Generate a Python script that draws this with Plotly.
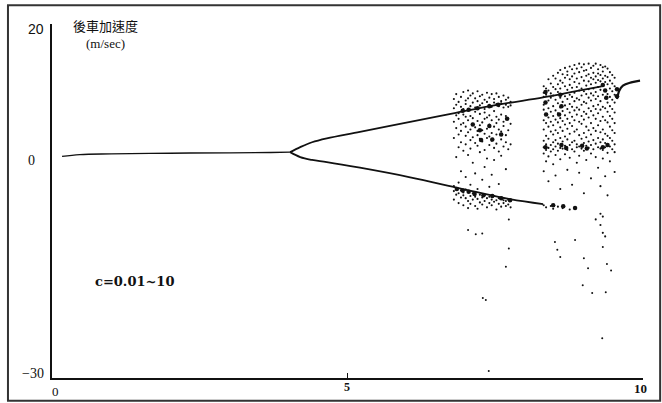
import plotly.graph_objects as go

# ---- period-1 branch (before the split) ----
base_c = [0.17, 0.47, 1.0, 2.0, 3.0, 3.7, 4.03]
base_y = [1.3, 1.55, 1.65, 1.75, 1.8, 1.85, 1.9]

# ---- period-2 branches ----
upper_c = [4.03, 4.2, 4.4, 4.65, 5.21, 6.06, 6.79, 7.53, 8.31, 8.8, 9.3]
upper_y = [1.9, 2.6, 3.3, 3.85, 4.77, 6.18, 7.38, 8.58, 9.63, 10.4, 11.2]
lower_c = [4.03, 4.2, 4.4, 4.65, 5.21, 6.06, 6.9, 7.75, 8.31]
lower_y = [1.9, 1.2, 0.8, 0.5, -0.3, -1.65, -3.2, -4.75, -5.45]

# ---- branch after the second chaotic window ----
final_c = [9.56, 9.6, 9.66, 9.8, 9.95]
final_y = [9.4, 10.6, 11.3, 11.75, 12.0]

# ---- chaotic samples, one list of accelerations per c value ----
streak_c = [6.80, 6.84, 6.88, 6.92, 6.96, 7.00, 7.04, 7.08, 7.12, 7.16, 7.20, 7.24, 7.28,
            7.32, 7.36, 7.40, 7.44, 7.48, 7.52, 7.56, 7.60, 7.64, 7.68, 7.72, 7.76,
            8.32, 8.36, 8.40, 8.44, 8.48, 8.52, 8.56, 8.60, 8.64, 8.68, 8.72, 8.76,
            8.80, 8.84, 8.88, 8.92, 8.96, 9.00, 9.04, 9.08, 9.12, 9.16, 9.20, 9.24,
            9.28, 9.32, 9.36, 9.40, 9.44, 9.48, 9.52]
streak_y = [
    [9.4, 8.1, 6.2, 3.9, -2.9, -3.6, -4.8],
    [10.1, 8.6, 7.1, 5.3, 1.2, -3.2, -4.1],
    [9.0, 7.4, 6.6, 4.4, 2.6, -2.4, -3.9, -5.3],
    [9.7, 8.3, 5.8, 4.9, 3.3, -0.8, -3.5, -4.5],
    [10.4, 8.0, 7.2, 6.0, 2.1, -3.8, -4.2, -5.6],
    [9.2, 8.7, 6.9, 5.5, 4.2, 3.0, -1.6, -3.4, -4.6],
    [10.6, 9.5, 7.8, 6.4, 4.7, 1.5, -3.7, -5.0, -6.0],
    [9.9, 8.4, 7.0, 5.1, 3.6, 2.4, -2.7, -4.3, -5.4],
    [10.2, 8.9, 6.7, 5.9, 4.0, 0.4, -3.9, -4.8],
    [9.5, 8.2, 7.6, 5.4, 3.2, -1.1, -4.0, -4.4, -5.7],
    [10.5, 9.1, 6.3, 4.9, 4.3, 2.8, -3.3, -4.7, -6.1],
    [9.8, 8.5, 7.3, 5.7, 3.8, 1.9, -4.1, -5.2],
    [10.0, 8.8, 6.1, 5.0, 3.4, -2.0, -4.5, -5.5],
    [9.3, 8.0, 7.5, 6.6, 4.5, 2.2, -0.2, -4.2, -5.0],
    [10.3, 9.0, 6.8, 5.2, 3.9, 1.0, -4.6, -5.9],
    [9.6, 8.6, 7.1, 5.8, 4.1, 2.9, -3.0, -4.4, -5.3],
    [10.1, 8.3, 6.4, 4.6, 3.5, -1.3, -4.8, -5.6],
    [9.4, 8.9, 7.7, 5.5, 2.5, 0.8, -4.3, -5.1],
    [10.2, 8.7, 6.9, 6.0, 4.4, 3.1, -4.9, -6.2],
    [9.7, 8.4, 6.5, 5.1, 2.0, -2.6, -4.6, -5.4],
    [9.1, 8.8, 7.2, 4.8, 3.7, 1.4, -4.7, -5.8],
    [9.9, 8.2, 6.2, 5.6, 2.7, -4.9, -5.3],
    [9.3, 8.6, 7.0, 4.3, 3.3, -0.5, -5.0, -5.7],
    [9.6, 8.3, 6.6, 5.0, 2.3, -4.8, -5.5],
    [9.0, 8.5, 5.9, 3.0, -5.0, -5.9],
    [11.2, 10.3, 9.7, 8.6, 7.9, 6.4, 5.1, 3.5, 2.6, 1.7, -0.8, -5.6],
    [10.9, 10.0, 8.9, 7.3, 6.0, 4.2, 3.0, 2.2, 0.6, -5.9],
    [12.2, 10.6, 9.2, 8.1, 6.8, 5.5, 3.8, 2.5, 1.3, -2.2],
    [11.6, 10.2, 9.6, 7.6, 6.2, 4.8, 2.9, 2.0, -5.7],
    [12.7, 11.1, 9.9, 8.4, 7.0, 5.7, 4.4, 3.3, 2.3, 0.2, -6.1],
    [12.3, 10.8, 9.3, 7.8, 6.5, 5.0, 3.6, 2.7, 1.5, -1.4],
    [13.1, 11.5, 10.4, 8.8, 7.4, 6.1, 4.6, 3.1, 2.1, -5.8],
    [13.5, 12.0, 10.9, 9.6, 8.2, 6.7, 5.4, 3.9, 2.5, 0.9, -3.3],
    [12.9, 11.7, 10.1, 9.0, 7.7, 6.3, 4.9, 3.4, 2.4, -6.0],
    [13.8, 12.4, 11.2, 9.8, 8.5, 7.1, 5.8, 4.1, 2.8, 1.6],
    [13.3, 12.8, 10.7, 9.4, 8.0, 6.6, 5.2, 3.7, 2.2, -0.6],
    [14.0, 12.2, 11.4, 10.0, 8.7, 7.5, 6.0, 4.5, 2.9, 1.1, -6.2],
    [13.6, 12.6, 11.0, 9.7, 8.3, 6.9, 5.6, 3.3, 2.3, -2.7],
    [14.2, 13.0, 11.8, 10.3, 9.1, 7.8, 6.4, 4.8, 3.5, 2.0],
    [13.7, 12.3, 11.1, 9.5, 8.2, 7.2, 5.1, 3.0, 2.6, 0.4],
    [14.4, 13.2, 11.6, 10.6, 9.3, 7.9, 6.2, 4.3, 2.7, 1.4, -1.0],
    [13.9, 12.5, 10.9, 9.9, 8.6, 7.0, 5.9, 3.8, 2.4],
    [14.3, 13.4, 12.0, 10.5, 9.0, 7.6, 6.5, 4.6, 3.2, 2.1, -3.9],
    [13.5, 12.7, 11.3, 10.1, 8.8, 7.3, 5.5, 4.0, 2.8, 0.8],
    [14.4, 12.9, 11.9, 10.8, 9.6, 8.1, 6.8, 5.0, 3.4, 2.5],
    [13.8, 12.4, 11.5, 10.2, 9.2, 7.7, 6.0, 4.4, 2.9, 1.7, -1.8],
    [14.1, 13.1, 12.2, 10.9, 9.9, 8.4, 7.1, 5.3, 3.6, 2.3],
    [14.4, 12.6, 11.7, 10.4, 9.4, 8.0, 6.6, 4.9, 3.1, 1.2, -7.6],
    [13.6, 13.0, 12.1, 11.1, 9.8, 8.6, 7.4, 5.7, 3.9, 2.6, -0.3],
    [14.2, 12.8, 11.9, 10.7, 9.1, 7.9, 6.3, 4.7, 3.3, 2.4, -2.9, -6.8, -8.4],
    [13.9, 13.3, 12.3, 11.4, 10.0, 8.3, 6.9, 5.1, 3.7, 2.2, 1.0, -7.2, -9.5],
    [14.0, 12.7, 11.8, 10.6, 9.5, 8.1, 6.4, 4.5, 3.2, 2.6, -1.5, -10.0],
    [13.7, 12.5, 11.5, 10.1, 8.9, 7.6, 6.1, 4.2, 2.9, 1.8, -4.2],
    [13.2, 12.0, 10.9, 9.7, 8.4, 7.0, 5.5, 3.9, 2.7, 0.6],
    [12.8, 11.6, 10.5, 9.3, 8.0, 6.6, 5.0, 3.5, 2.3],
    [12.4, 11.2, 10.0, 8.9, 7.5, 6.0, 4.6, 3.0, 1.9, -0.9],
]

# ---- dense clusters within the chaotic windows ----
cluster_c = [6.95, 7.05, 7.20, 7.40, 7.55, 7.12, 7.24, 7.26, 7.40, 7.45, 7.60, 7.70,
             6.85, 6.95, 7.05, 7.15, 7.30, 7.45, 7.60, 7.75,
             8.35, 8.35, 8.36, 8.60, 8.62, 8.58, 8.35, 8.62, 8.70, 8.97, 9.05, 9.32, 9.40,
             9.32, 9.36, 9.38, 9.56, 9.56, 8.48, 8.65, 8.85]
cluster_y = [7.75, 7.9, 8.1, 8.4, 8.6, 5.8, 5.0, 3.6, 5.6, 3.7, 4.4, 6.6,
             -3.3, -3.5, -3.7, -4.0, -4.2, -4.3, -4.6, -4.9,
             10.4, 8.9, 7.2, 10.0, 8.4, 7.2, 2.6, 2.9, 2.5, 2.8, 2.4, 2.6, 2.9,
             11.4, 10.6, 9.6, 10.8, 9.8, -5.6, -5.75, -6.0]

# ---- isolated large negative excursions ----
outlier_c = [7.04, 7.17, 7.28, 7.73, 7.73, 7.68, 8.51, 8.55, 8.60, 8.85, 9.00, 9.07,
             8.98, 9.14, 9.32, 9.39, 9.37, 9.46, 9.31, 7.29, 7.34, 7.39]
outlier_y = [-9.1, -9.7, -9.6, -7.6, -11.7, -14.3, -10.8, -11.9, -12.9, -10.5, -13.1, -14.5,
             -16.9, -18.0, -11.5, -13.9, -17.9, -14.8, -24.4, -18.7, -19.0, -29.0]

dots_c, dots_y = [], []
for c, ys in zip(streak_c, streak_y):
    dots_c += [c] * len(ys)
    dots_y += ys

INK = "#111111"
fig = go.Figure()
line_style = dict(color=INK, width=1.8, shape="spline")
fig.add_trace(go.Scatter(x=base_c, y=base_y, mode="lines", line=dict(color=INK, width=1.4, shape="spline")))
fig.add_trace(go.Scatter(x=upper_c, y=upper_y, mode="lines", line=line_style))
fig.add_trace(go.Scatter(x=lower_c, y=lower_y, mode="lines", line=line_style))
fig.add_trace(go.Scatter(x=final_c, y=final_y, mode="lines", line=dict(color=INK, width=2.2, shape="spline")))
fig.add_trace(go.Scatter(x=dots_c, y=dots_y, mode="markers",
                         marker=dict(color=INK, size=2.1, line=dict(width=0))))
fig.add_trace(go.Scatter(x=cluster_c, y=cluster_y, mode="markers",
                         marker=dict(color=INK, size=4.5, line=dict(width=0))))
fig.add_trace(go.Scatter(x=outlier_c, y=outlier_y, mode="markers",
                         marker=dict(color=INK, size=2.0, line=dict(width=0))))

serif = "Liberation Serif"
ann = [
    dict(x=0, y=20, text="20", xshift=-16, yshift=-5, font=dict(family="Liberation Sans", size=14)),
    dict(x=0, y=0, text="0", xshift=-21, yshift=5, font=dict(family=serif, size=14)),
    dict(x=0, y=-30, text="−30", xshift=-19, yshift=5, font=dict(family=serif, size=14)),
    dict(x=0, y=-30, text="0", xshift=3, yshift=-13, font=dict(family=serif, size=13)),
    dict(x=5, y=-30, text="<b>5</b>", xshift=-1, yshift=-9, font=dict(family=serif, size=12)),
    dict(x=10, y=-30, text="<b>10</b>", xshift=-3, yshift=-10, font=dict(family=serif, size=13)),
    dict(x=0, y=20,
         text='後車加速度<br><span style="font-family:Liberation Serif;font-size:13px">(m/sec)</span>',
         xshift=53, yshift=-9, font=dict(family="Noto Sans CJK TC", size=13)),
    dict(x=1.4, y=-16.3, text="<b>c=0.01~10</b>", font=dict(family="DejaVu Serif", size=13)),
]
for a in ann:
    a.update(xref="x", yref="y", showarrow=False, xanchor="center", yanchor="middle")
    a["font"]["color"] = "#111"

fig.update_layout(
    width=662, height=403,
    margin=dict(l=52, r=19, t=24, b=25),
    paper_bgcolor="white", plot_bgcolor="white",
    showlegend=False,
    annotations=ann,
    shapes=[dict(type="rect", xref="paper", yref="paper",
                 x0=-0.0745, x1=1.029, y0=-0.064, y1=1.053,
                 line=dict(color="#333", width=2))],
    xaxis=dict(range=[0, 10], showgrid=False, zeroline=False, showline=True,
               linecolor=INK, linewidth=1.5, ticks="inside", tickvals=[5, 10],
               ticklen=5, tickwidth=1.2, tickcolor=INK, showticklabels=False),
    yaxis=dict(range=[-30, 20], showgrid=False, zeroline=False, showline=True,
               linecolor=INK, linewidth=1.5, ticks="inside", tickvals=[20],
               ticklen=7, tickwidth=1.5, tickcolor=INK, showticklabels=False),
)
fig.write_html("out.html")
